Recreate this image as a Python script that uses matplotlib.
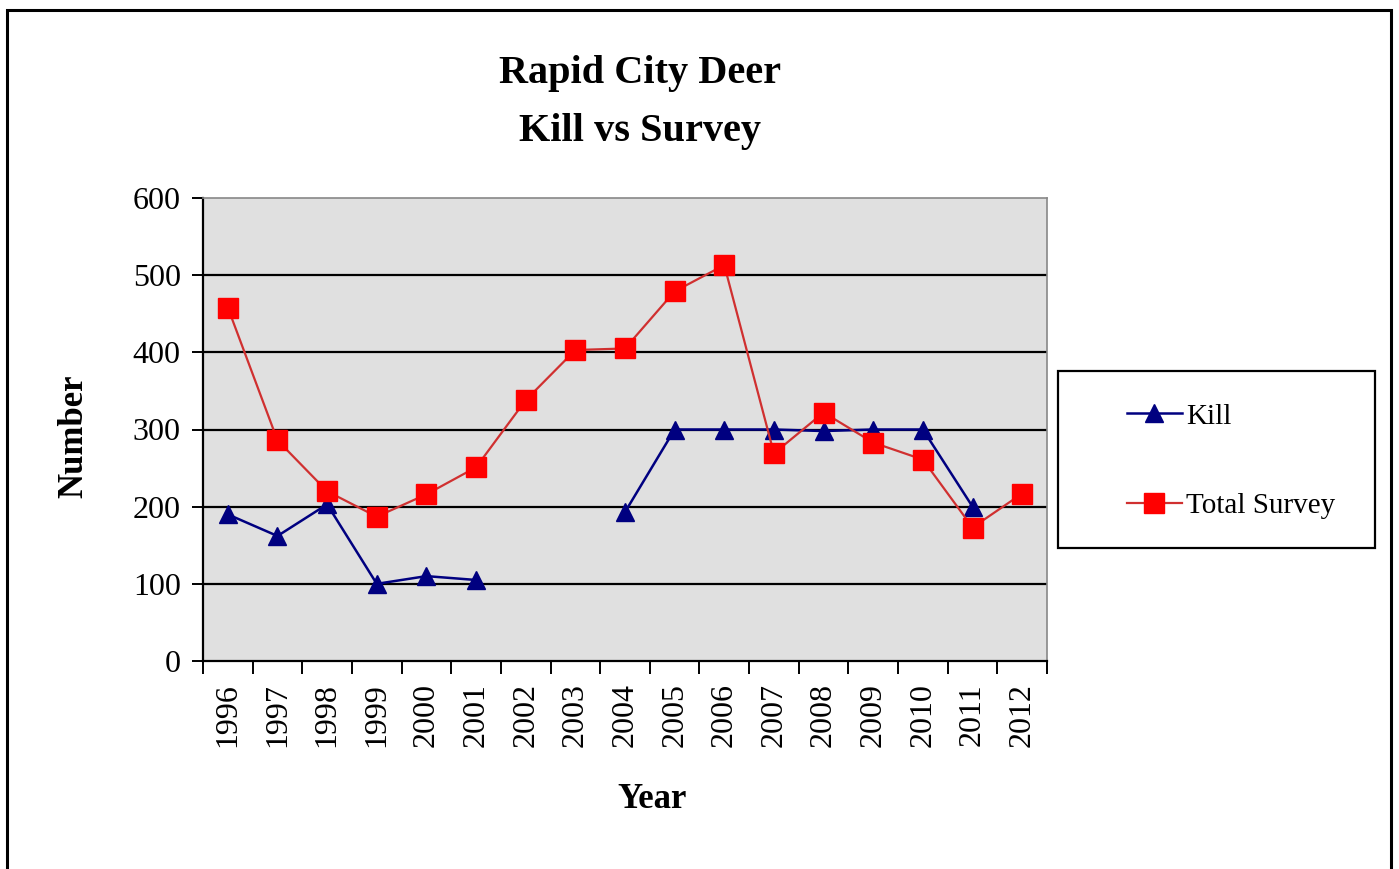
import numpy as np
import matplotlib
matplotlib.use("Agg")
import matplotlib.pyplot as plt
from matplotlib.patches import Rectangle

# data
years = ["1996", "1997", "1998", "1999", "2000", "2001", "2002", "2003", "2004",
         "2005", "2006", "2007", "2008", "2009", "2010", "2011", "2012"]
kill = [190, 162, 203, 100, 110, 105, np.nan, np.nan, 193,
        300, 300, 300, 298, 300, 300, 200, np.nan]
survey = [458, 286, 220, 187, 216, 251, 338, 403, 405,
          479, 513, 269, 322, 283, 261, 173, 217]
yticks = [0, 100, 200, 300, 400, 500, 600]

serif = ["Liberation Serif", "DejaVu Serif"]
plt.rcParams["font.family"] = serif

fig = plt.figure(figsize=(13.99, 8.69), dpi=100)
fig.patch.set_facecolor("white")

# outer border round the chart (bottom edge is cut off in the original)
fig.add_artist(Rectangle((7 / 1399, -0.02), 1384 / 1399, 1 - 10 / 869 + 0.02,
                         transform=fig.transFigure, fill=False,
                         edgecolor="black", linewidth=2.2))

ax = fig.add_axes([203 / 1399, 1 - 661 / 869, 844 / 1399, 463 / 869])
ax.set_facecolor("#E0E0E0")

x = np.arange(len(years))
ax.plot(x, kill, color="#000080", linewidth=1.8, marker="^", markersize=13,
        markerfacecolor="#000080", markeredgecolor="#000080", label="Kill", zorder=3)
ax.plot(x, survey, color="#D03030", linewidth=1.6, marker="s", markersize=15,
        markerfacecolor="#FF0000", markeredgecolor="#FF0000", label="Total Survey", zorder=4)

ax.set_xlim(-0.5, len(years) - 0.5)
ax.set_ylim(0, 600)
ax.set_yticks(yticks)
ax.set_yticklabels([str(v) for v in yticks], fontsize=23)
for v in yticks[1:-1]:
    ax.axhline(v, color="black", linewidth=1.6, zorder=1)

ax.set_xticks(x)
ax.set_xticklabels(years, rotation=90, fontsize=23)
ax.set_xticks(np.arange(len(years) + 1) - 0.5, minor=True)
ax.tick_params(axis="x", which="major", length=0, pad=16)
ax.tick_params(axis="x", which="minor", length=9, width=1.4, direction="out")
ax.tick_params(axis="y", length=8, width=1.4, direction="out", pad=8)

for s in ["left", "bottom"]:
    ax.spines[s].set_color("black")
    ax.spines[s].set_linewidth(1.6)
for s in ["top", "right"]:
    ax.spines[s].set_color("#888888")
    ax.spines[s].set_linewidth(1.2)

ax.set_xlabel("Year", fontsize=25, fontweight="bold")
ax.set_ylabel("Number", fontsize=25, fontweight="bold")
ax.xaxis.set_label_coords(0.532, -0.263)
ax.yaxis.set_label_coords(-0.133, 0.485)

fig.text(640 / 1399, 1 - 73 / 869, "Rapid City Deer", ha="center", va="center",
         fontsize=29, fontweight="bold")
fig.text(640 / 1399, 1 - 132 / 869, "Kill vs Survey", ha="center", va="center",
         fontsize=29, fontweight="bold")

# legend box and entries
fig.add_artist(Rectangle((1058 / 1399, 1 - 548 / 869), 317 / 1399, 177 / 869,
                         transform=fig.transFigure, fill=False,
                         edgecolor="black", linewidth=1.6))
fig.legend(loc="center left", bbox_to_anchor=(1112 / 1399, 1 - 461 / 869),
           frameon=False, fontsize=21, borderpad=0, handlelength=1.9,
           handletextpad=0.15, labelspacing=2.15)

fig.savefig("out.png", dpi=100)
